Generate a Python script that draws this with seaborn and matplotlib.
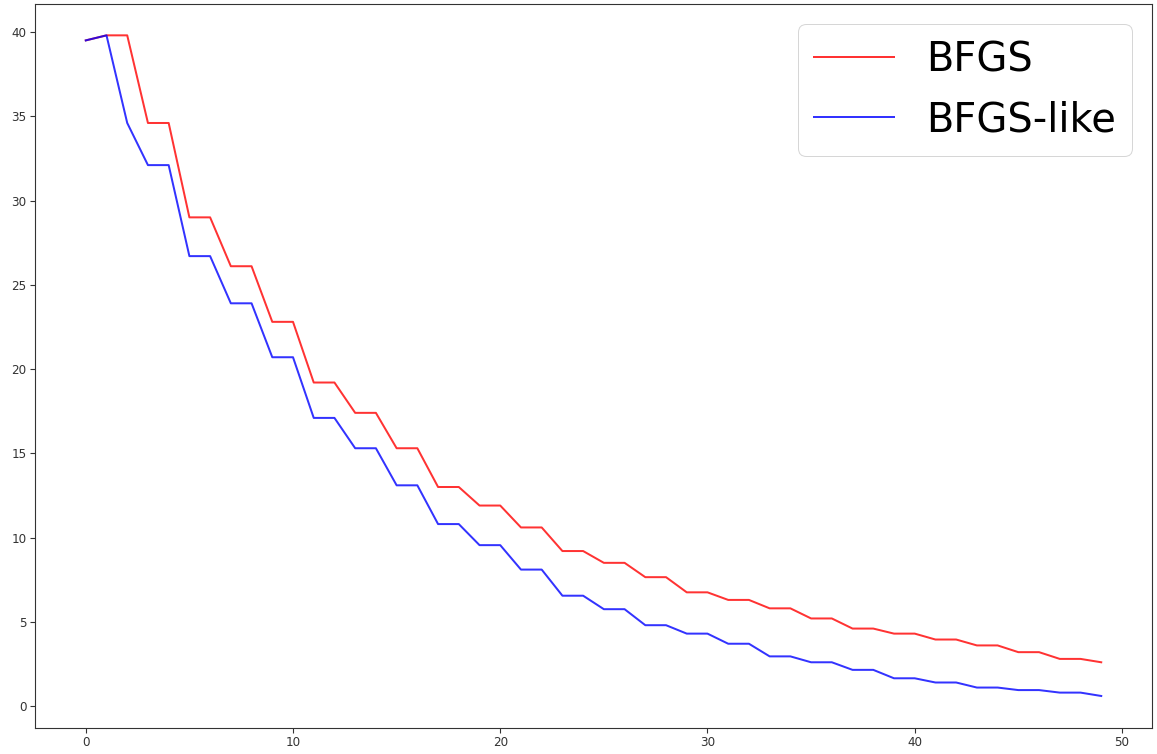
import matplotlib
matplotlib.use("Agg")
import matplotlib.pyplot as plt
import seaborn as sns
import pandas as pd

iterations = list(range(50))
bfgs = [39.5, 39.8, 39.8, 34.6, 34.6, 29.0, 29.0, 26.1, 26.1, 22.8,
        22.8, 19.2, 19.2, 17.4, 17.4, 15.3, 15.3, 13.0, 13.0, 11.9,
        11.9, 10.6, 10.6, 9.2, 9.2, 8.5, 8.5, 7.65, 7.65, 6.75,
        6.75, 6.3, 6.3, 5.8, 5.8, 5.2, 5.2, 4.6, 4.6, 4.3,
        4.3, 3.95, 3.95, 3.6, 3.6, 3.2, 3.2, 2.8, 2.8, 2.6]
bfgs_like = [39.5, 39.8, 34.6, 32.1, 32.1, 26.7, 26.7, 23.9, 23.9, 20.7,
             20.7, 17.1, 17.1, 15.3, 15.3, 13.1, 13.1, 10.8, 10.8, 9.55,
             9.55, 8.1, 8.1, 6.55, 6.55, 5.75, 5.75, 4.8, 4.8, 4.3,
             4.3, 3.7, 3.7, 2.95, 2.95, 2.6, 2.6, 2.15, 2.15, 1.65,
             1.65, 1.4, 1.4, 1.1, 1.1, 0.95, 0.95, 0.8, 0.8, 0.6]
series_names = ["BFGS", "BFGS-like"]
colors = ["red", "blue"]

df = pd.DataFrame({
    "iter": iterations * 2,
    "value": bfgs + bfgs_like,
    "method": [series_names[0]] * len(bfgs) + [series_names[1]] * len(bfgs_like),
})

fig = plt.figure(figsize=(1157 / 72, 754 / 72), dpi=72)
ax = fig.add_axes([35 / 1157, 1 - 728 / 754, (1152 - 35) / 1157, (728 - 4) / 754])
sns.lineplot(data=df, x="iter", y="value", hue="method", palette=colors,
             alpha=0.8, linewidth=2, ax=ax)
ax.set_xlabel("")
ax.set_ylabel("")
ax.set_xticks([0, 10, 20, 30, 40, 50])
ax.set_yticks([0, 5, 10, 15, 20, 25, 30, 35, 40])
ax.set_ylim(-1.3, 41.66)
ax.tick_params(labelsize=12, colors="#333333", length=5, width=1.1)
for s in ax.spines.values():
    s.set_linewidth(1.1)
    s.set_color("#333333")
ax.legend(loc="upper right", fontsize=40, handlelength=2.0)
fig.savefig("out.png", dpi=72)
